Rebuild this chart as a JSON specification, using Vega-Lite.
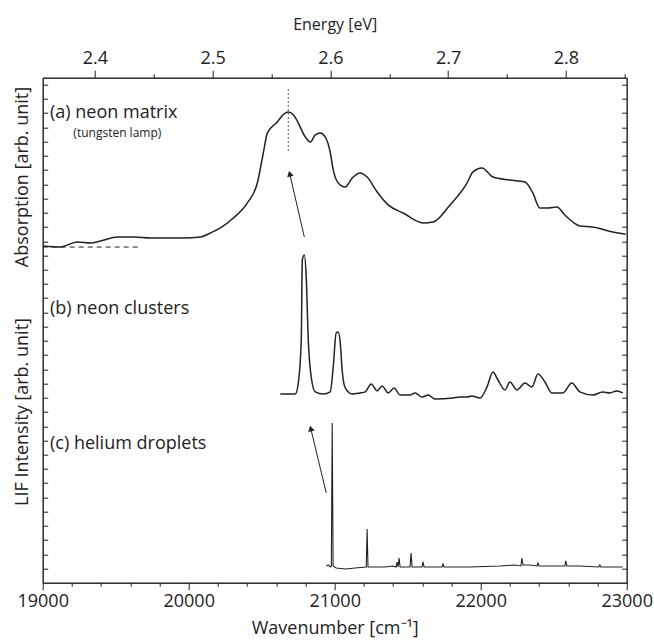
{
  "$schema": "https://vega.github.io/schema/vega-lite/v6.json",
  "width": 584,
  "height": 505,
  "autosize": "none",
  "padding": {"left": 42.7, "top": 77.7, "right": 27.3, "bottom": 59.3},
  "config": {
    "view": {"stroke": "#222", "strokeWidth": 1},
    "font": "Open Sans",
    "axis": {"domainColor": "#222", "tickColor": "#222", "labelColor": "#222", "titleColor": "#222", "grid": false, "labelFont": "Open Sans", "titleFont": "Open Sans", "titleFontWeight": "normal", "labelOverlap": false, "tickCount": 100}
  },
  "datasets": {
    "spec": [
      {"s": "a", "w": 19007, "v": 24.53}, {"s": "a", "w": 19123, "v": 24.46}, {"s": "a", "w": 19239, "v": 24.81},
      {"s": "a", "w": 19328, "v": 24.74}, {"s": "a", "w": 19397, "v": 24.88}, {"s": "a", "w": 19513, "v": 25.16},
      {"s": "a", "w": 19622, "v": 25.16}, {"s": "a", "w": 19739, "v": 25.09}, {"s": "a", "w": 19855, "v": 25.09},
      {"s": "a", "w": 19964, "v": 25.09}, {"s": "a", "w": 20081, "v": 25.16}, {"s": "a", "w": 20149, "v": 25.44},
      {"s": "a", "w": 20217, "v": 25.79}, {"s": "a", "w": 20306, "v": 26.49}, {"s": "a", "w": 20402, "v": 27.55},
      {"s": "a", "w": 20470, "v": 28.95}, {"s": "a", "w": 20511, "v": 31.06}, {"s": "a", "w": 20539, "v": 32.47},
      {"s": "a", "w": 20607, "v": 33.24}, {"s": "a", "w": 20650, "v": 33.78}, {"s": "a", "w": 20682, "v": 33.94},
      {"s": "a", "w": 20717, "v": 33.75}, {"s": "a", "w": 20744, "v": 33.30},
      {"s": "a", "w": 20798, "v": 32.19}, {"s": "a", "w": 20833, "v": 31.83}, {"s": "a", "w": 20867, "v": 32.33},
      {"s": "a", "w": 20901, "v": 32.47}, {"s": "a", "w": 20935, "v": 32.19}, {"s": "a", "w": 20969, "v": 31.13},
      {"s": "a", "w": 20990, "v": 29.87}, {"s": "a", "w": 21024, "v": 28.95}, {"s": "a", "w": 21072, "v": 28.67},
      {"s": "a", "w": 21120, "v": 29.30}, {"s": "a", "w": 21174, "v": 29.66}, {"s": "a", "w": 21222, "v": 29.37},
      {"s": "a", "w": 21291, "v": 28.32}, {"s": "a", "w": 21366, "v": 27.41}, {"s": "a", "w": 21469, "v": 26.84},
      {"s": "a", "w": 21605, "v": 26.14}, {"s": "a", "w": 21674, "v": 26.21}, {"s": "a", "w": 21790, "v": 27.41},
      {"s": "a", "w": 21906, "v": 28.95}, {"s": "a", "w": 21947, "v": 29.73}, {"s": "a", "w": 22009, "v": 30.01},
      {"s": "a", "w": 22084, "v": 29.37}, {"s": "a", "w": 22200, "v": 29.16}, {"s": "a", "w": 22303, "v": 29.02},
      {"s": "a", "w": 22357, "v": 28.25}, {"s": "a", "w": 22405, "v": 27.20}, {"s": "a", "w": 22460, "v": 27.20},
      {"s": "a", "w": 22522, "v": 27.27}, {"s": "a", "w": 22576, "v": 26.70}, {"s": "a", "w": 22631, "v": 26.21},
      {"s": "a", "w": 22679, "v": 25.93}, {"s": "a", "w": 22768, "v": 25.86}, {"s": "a", "w": 22905, "v": 25.51},
      {"s": "a", "w": 22993, "v": 25.35},
      {"s": "b", "w": 20627, "v": 14.12}, {"s": "b", "w": 20730, "v": 14.12}, {"s": "b", "w": 20751, "v": 14.90},
      {"s": "b", "w": 20771, "v": 17.92}, {"s": "b", "w": 20778, "v": 23.54}, {"s": "b", "w": 20792, "v": 23.89},
      {"s": "b", "w": 20805, "v": 22.35}, {"s": "b", "w": 20819, "v": 17.92}, {"s": "b", "w": 20839, "v": 15.32},
      {"s": "b", "w": 20867, "v": 14.27}, {"s": "b", "w": 20921, "v": 14.12}, {"s": "b", "w": 20969, "v": 14.27},
      {"s": "b", "w": 20990, "v": 16.02}, {"s": "b", "w": 21010, "v": 18.41}, {"s": "b", "w": 21024, "v": 18.48},
      {"s": "b", "w": 21038, "v": 17.71}, {"s": "b", "w": 21051, "v": 15.81}, {"s": "b", "w": 21072, "v": 14.55},
      {"s": "b", "w": 21120, "v": 14.12}, {"s": "b", "w": 21174, "v": 14.20}, {"s": "b", "w": 21209, "v": 14.27},
      {"s": "b", "w": 21250, "v": 14.83}, {"s": "b", "w": 21291, "v": 14.34}, {"s": "b", "w": 21325, "v": 14.69},
      {"s": "b", "w": 21366, "v": 14.20}, {"s": "b", "w": 21407, "v": 14.55}, {"s": "b", "w": 21448, "v": 14.05},
      {"s": "b", "w": 21516, "v": 14.05}, {"s": "b", "w": 21551, "v": 14.20}, {"s": "b", "w": 21598, "v": 13.91},
      {"s": "b", "w": 21640, "v": 14.05}, {"s": "b", "w": 21687, "v": 13.77}, {"s": "b", "w": 21810, "v": 13.84},
      {"s": "b", "w": 21858, "v": 13.91}, {"s": "b", "w": 21906, "v": 13.91}, {"s": "b", "w": 21940, "v": 13.98},
      {"s": "b", "w": 21995, "v": 13.84}, {"s": "b", "w": 22043, "v": 14.62}, {"s": "b", "w": 22084, "v": 15.67},
      {"s": "b", "w": 22118, "v": 15.11}, {"s": "b", "w": 22166, "v": 14.41}, {"s": "b", "w": 22200, "v": 14.97},
      {"s": "b", "w": 22248, "v": 14.41}, {"s": "b", "w": 22303, "v": 14.90}, {"s": "b", "w": 22351, "v": 14.62},
      {"s": "b", "w": 22392, "v": 15.53}, {"s": "b", "w": 22440, "v": 14.97}, {"s": "b", "w": 22487, "v": 14.20},
      {"s": "b", "w": 22563, "v": 14.20}, {"s": "b", "w": 22624, "v": 14.90}, {"s": "b", "w": 22679, "v": 14.27},
      {"s": "b", "w": 22768, "v": 14.05}, {"s": "b", "w": 22836, "v": 14.27}, {"s": "b", "w": 22884, "v": 14.20},
      {"s": "b", "w": 22932, "v": 14.34}, {"s": "b", "w": 22973, "v": 14.20},
      {"s": "c", "w": 20942, "v": 2.04}, {"s": "c", "w": 20956, "v": 2.11}, {"s": "c", "w": 20969, "v": 1.97},
      {"s": "c", "w": 20977, "v": 2.04}, {"s": "c", "w": 20983, "v": 12.09}, {"s": "c", "w": 20989, "v": 2.04},
      {"s": "c", "w": 21010, "v": 1.90}, {"s": "c", "w": 21072, "v": 1.83}, {"s": "c", "w": 21140, "v": 1.90},
      {"s": "c", "w": 21216, "v": 1.97}, {"s": "c", "w": 21222, "v": 4.64}, {"s": "c", "w": 21228, "v": 1.97},
      {"s": "c", "w": 21345, "v": 1.97}, {"s": "c", "w": 21400, "v": 2.04}, {"s": "c", "w": 21421, "v": 1.97},
      {"s": "c", "w": 21427, "v": 2.32}, {"s": "c", "w": 21434, "v": 1.97}, {"s": "c", "w": 21441, "v": 2.60},
      {"s": "c", "w": 21448, "v": 1.97}, {"s": "c", "w": 21516, "v": 1.97}, {"s": "c", "w": 21523, "v": 2.95},
      {"s": "c", "w": 21530, "v": 1.97}, {"s": "c", "w": 21598, "v": 1.97}, {"s": "c", "w": 21605, "v": 2.32},
      {"s": "c", "w": 21612, "v": 1.97}, {"s": "c", "w": 21735, "v": 1.97}, {"s": "c", "w": 21742, "v": 2.18},
      {"s": "c", "w": 21749, "v": 1.97}, {"s": "c", "w": 21927, "v": 1.97}, {"s": "c", "w": 22132, "v": 2.04},
      {"s": "c", "w": 22234, "v": 2.11}, {"s": "c", "w": 22275, "v": 2.04}, {"s": "c", "w": 22282, "v": 2.60},
      {"s": "c", "w": 22289, "v": 2.11}, {"s": "c", "w": 22337, "v": 2.11}, {"s": "c", "w": 22385, "v": 2.04},
      {"s": "c", "w": 22392, "v": 2.25}, {"s": "c", "w": 22399, "v": 2.04}, {"s": "c", "w": 22508, "v": 2.04},
      {"s": "c", "w": 22576, "v": 2.04}, {"s": "c", "w": 22583, "v": 2.39}, {"s": "c", "w": 22590, "v": 2.04},
      {"s": "c", "w": 22679, "v": 2.04}, {"s": "c", "w": 22809, "v": 1.97}, {"s": "c", "w": 22816, "v": 2.11},
      {"s": "c", "w": 22823, "v": 1.97}, {"s": "c", "w": 22973, "v": 1.97}
    ],
    "baseline": [{"w": 19000, "w2": 19656, "v": 24.45}],
    "marker": [{"w": 20682, "v": 35.56, "v2": 31.06}],
    "arrows": [
      {"w": 20792, "v": 25.16, "w2": 20692, "v2": 29.6, "ang": 347},
      {"w": 20942, "v": 7.17, "w2": 20836, "v2": 11.7, "ang": 346}
    ],
    "labels": [
      {"t": "(a) neon matrix", "w": 19050, "v": 33.9, "fs": 18},
      {"t": "(tungsten lamp)", "w": 19210, "v": 32.47, "fs": 12},
      {"t": "(b) neon clusters", "w": 19050, "v": 20.10, "fs": 18},
      {"t": "(c) helium droplets", "w": 19050, "v": 10.61, "fs": 18}
    ],
    "ytitles": [
      {"t": "Absorption [arb. unit]", "w": 18863, "v": 29.37},
      {"t": "LIF Intensity [arb. unit]", "w": 18863, "v": 12.86}
    ],
    "energy": [{"e": 2.35569, "v": 1}, {"e": 2.85164, "v": 36}]
  },
  "layer": [
    {
      "layer": [
        {
          "data": {"name": "spec"},
          "transform": [{"filter": "datum.s !== 'c'"}],
          "mark": {"type": "line", "color": "#222", "strokeWidth": 1.5, "clip": true, "interpolate": "monotone"},
          "encoding": {
            "x": {"field": "w", "type": "quantitative", "scale": {"domain": [19000, 23000], "nice": false, "zero": false},
              "axis": {"orient": "bottom", "title": "Wavenumber [cm⁻¹]", "values": [19000,19200,19400,19600,19800,20000,20200,20400,20600,20800,21000,21200,21400,21600,21800,22000,22200,22400,22600,22800,23000],
                "labelExpr": "datum.value % 1000 === 0 ? format(datum.value, 'd') : ''",
                "tickSize": {"condition": {"test": "datum.value % 1000 === 0", "value": 7}, "value": 3.5},
                "labelFontSize": 18, "titleFontSize": 18, "labelPadding": 3, "titleY": 51, "titleBaseline": "alphabetic", "labelFlush": false, "tickCount": 100}},
            "y": {"field": "v", "type": "quantitative", "scale": {"domain": [0.864, 36.35], "nice": false, "zero": false},
              "axis": {"orient": "left", "title": null, "labels": false, "tickCount": 100, "tickWidth": 1, "values": [0.86,1.86,2.86,3.86,4.86,5.86,6.86,7.86,8.86,9.86,10.86,11.86,12.86,13.86,14.86,15.86,16.86,17.86,18.86,19.86,20.86,21.86,22.86,23.86,24.86,25.86,26.86,27.86,28.86,29.86,30.86,31.86,32.86,33.86,34.86,35.86], "tickSize": -5}},
            "detail": {"field": "s"}
          }
        },
        {
          "data": {"name": "spec"},
          "transform": [{"filter": "datum.s === 'c'"}],
          "mark": {"type": "line", "color": "#222", "strokeWidth": 1.1, "clip": true},
          "encoding": {"x": {"field": "w", "type": "quantitative"}, "y": {"field": "v", "type": "quantitative"}}
        },
        {
          "data": {"name": "baseline"},
          "mark": {"type": "rule", "color": "#222", "strokeWidth": 1, "strokeDash": [5, 4]},
          "encoding": {"x": {"field": "w", "type": "quantitative"}, "x2": {"field": "w2"}, "y": {"field": "v", "type": "quantitative"}}
        },
        {
          "data": {"name": "marker"},
          "mark": {"type": "rule", "color": "#555", "strokeWidth": 1, "strokeDash": [2, 2]},
          "encoding": {"x": {"field": "w", "type": "quantitative"}, "y": {"field": "v", "type": "quantitative"}, "y2": {"field": "v2"}}
        },
        {
          "data": {"name": "arrows"},
          "mark": {"type": "rule", "color": "#222", "strokeWidth": 1},
          "encoding": {"x": {"field": "w", "type": "quantitative"}, "x2": {"field": "w2"}, "y": {"field": "v", "type": "quantitative"}, "y2": {"field": "v2"}}
        },
        {
          "data": {"name": "arrows"},
          "mark": {"type": "point", "shape": "triangle-up", "filled": true, "color": "#222", "size": 45, "opacity": 1},
          "encoding": {"x": {"field": "w2", "type": "quantitative"}, "y": {"field": "v2", "type": "quantitative"}, "angle": {"field": "ang", "type": "quantitative", "scale": null}}
        },
        {
          "data": {"name": "labels"},
          "mark": {"type": "text", "align": "left", "baseline": "middle", "color": "#222", "font": "Open Sans"},
          "encoding": {"x": {"field": "w", "type": "quantitative"}, "y": {"field": "v", "type": "quantitative"}, "text": {"field": "t"}, "size": {"field": "fs", "type": "quantitative", "scale": null}}
        },
        {
          "data": {"name": "ytitles"},
          "mark": {"type": "text", "align": "center", "baseline": "middle", "angle": 270, "color": "#222", "font": "Open Sans", "fontSize": 18},
          "encoding": {"x": {"field": "w", "type": "quantitative"}, "y": {"field": "v", "type": "quantitative"}, "text": {"field": "t"}}
        }
      ]
    },
    {
      "data": {"name": "energy"},
      "mark": {"type": "point", "opacity": 0},
      "encoding": {
        "x": {"field": "e", "type": "quantitative", "scale": {"domain": [2.35569, 2.85164], "nice": false, "zero": false},
          "axis": {"orient": "top", "title": "Energy [eV]", "values": [2.4, 2.45, 2.5, 2.55, 2.6, 2.65, 2.7, 2.75, 2.8, 2.85], "tickCount": 100,
            "labelExpr": "abs(datum.value * 10 - round(datum.value * 10)) < 0.001 ? format(datum.value, '.1f') : ''",
            "tickSize": {"condition": {"test": "abs(datum.value * 10 - round(datum.value * 10)) < 0.001", "value": 7.5}, "value": 4},
            "labelFontSize": 18, "titleFontSize": 16, "labelPadding": 3, "titleY": -48, "titleBaseline": "alphabetic"}},
        "y": {"field": "v", "type": "quantitative", "scale": {"domain": [0.864, 36.35], "nice": false, "zero": false},
          "axis": {"orient": "right", "title": null, "labels": false, "domain": true, "ticks": true, "tickWidth": 1, "tickCount": 100, "values": [0.86,1.86,2.86,3.86,4.86,5.86,6.86,7.86,8.86,9.86,10.86,11.86,12.86,13.86,14.86,15.86,16.86,17.86,18.86,19.86,20.86,21.86,22.86,23.86,24.86,25.86,26.86,27.86,28.86,29.86,30.86,31.86,32.86,33.86,34.86,35.86], "tickSize": -5}}
      }
    }
  ],
  "resolve": {"scale": {"x": "independent", "y": "independent"}, "axis": {"x": "independent", "y": "independent"}}
}
